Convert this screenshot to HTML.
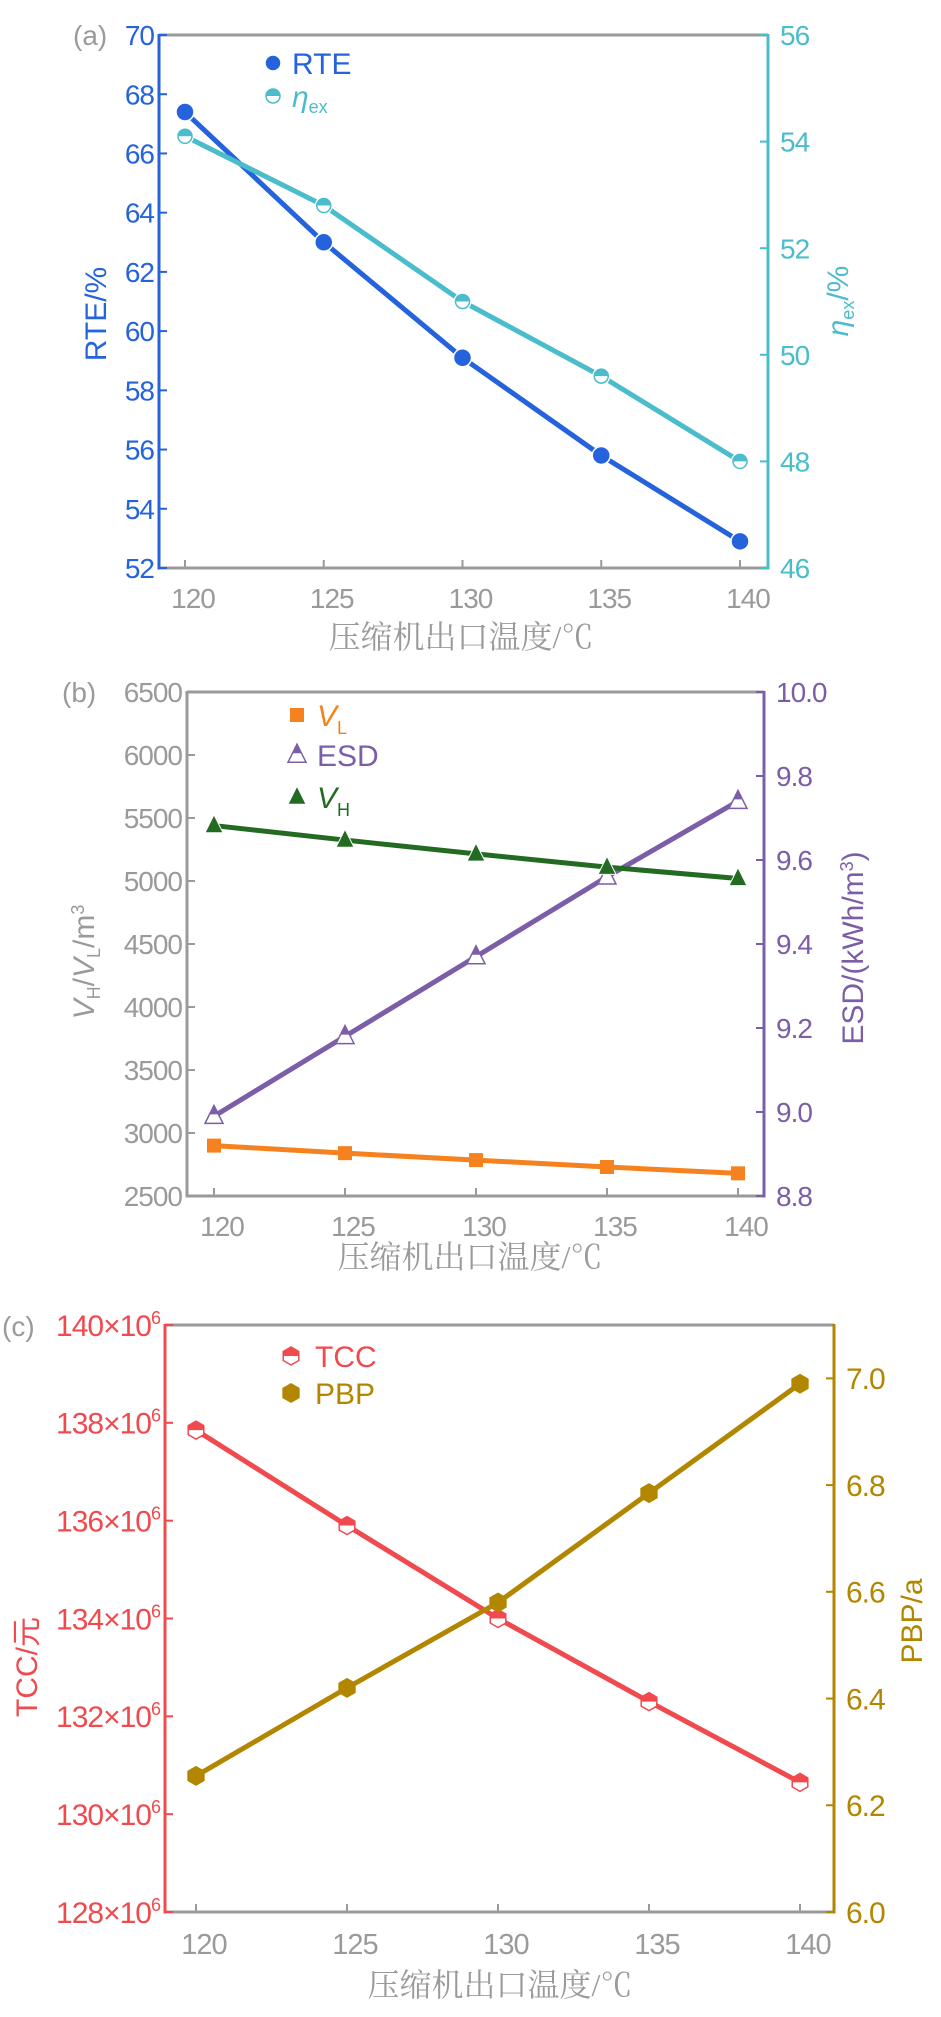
<!DOCTYPE html>
<html><head><meta charset="utf-8">
<style>
body{margin:0;background:#fff;width:941px;height:2017px;overflow:hidden}
svg{display:block}
text{font-family:"Liberation Sans","Noto Sans CJK SC",sans-serif}
.cn{font-family:"Liberation Serif","Noto Serif CJK SC",serif}
</style></head><body>
<svg id="fig" width="941" height="2017" viewBox="0 0 941 2017" xmlns="http://www.w3.org/2000/svg"></svg>
<script>
const temps = [120, 125, 130, 135, 140];
const rteValues = [67.4, 63.0, 59.1, 55.8, 52.9];
const etaValues = [54.1, 52.8, 51.0, 49.6, 48.0];
const vlValues = [2900, 2840, 2785, 2730, 2680];
const esdValues = [8.99, 9.18, 9.37, 9.56, 9.74];
const vhValues = [5440, 5325, 5215, 5110, 5020];
const tccValues = [137.85, 135.9, 134.0, 132.3, 130.65];
const pbpValues = [6.255, 6.42, 6.58, 6.785, 6.99];
const aLeftTicks = [52,54,56,58,60,62,64,66,68,70];
const aRightTicks = [46,48,50,52,54,56];
const bLeftTicks = [2500,3000,3500,4000,4500,5000,5500,6000,6500];
const bRightTicks = ["8.8","9.0","9.2","9.4","9.6","9.8","10.0"];
const cLeftTicks = [128,130,132,134,136,138,140];
const cRightTicks = ["6.0","6.2","6.4","6.6","6.8","7.0"];

const NS="http://www.w3.org/2000/svg";
const svg=document.getElementById('fig');
function el(tag,attrs,parent,txt){const e=document.createElementNS(NS,tag);for(const k in attrs)e.setAttribute(k,attrs[k]);if(txt!==undefined)e.textContent=txt;(parent||svg).appendChild(e);return e;}
const GRAY="#9a9a9a";

function chart(cfg){
  const g=el('g',{});
  
  
  const {L,R,T,B,x0,x1}=cfg;
  const xs=v=>x0+(v-120)/20*(x1-x0);
  const yl=v=>B-(v-cfg.lmin)/(cfg.lmax-cfg.lmin)*(B-T);
  const yr=v=>B-(v-cfg.rmin)/(cfg.rmax-cfg.rmin)*(B-T);
  const top=el('line',{x1:L,y1:T,x2:R,y2:T,stroke:GRAY,'stroke-width':3},g);
  
  const bot=el('line',{x1:L,y1:B,x2:R,y2:B,stroke:GRAY,'stroke-width':3},g);
  
  const la=el('line',{x1:L,y1:T-1,x2:L,y2:B+1.5,stroke:cfg.lc,'stroke-width':3},g);
  
  const ra=el('line',{x1:R,y1:T-1,x2:R,y2:B+1.5,stroke:cfg.rc,'stroke-width':3},g);
  
  temps.forEach(t=>{
    const tk=el('line',{x1:xs(t),y1:B,x2:xs(t),y2:B-8,stroke:GRAY,'stroke-width':2},g);
    
    const tl=el('text',{x:xs(t)+8,y:B+cfg.xty,'font-size':cfg.xfs||cfg.fs,fill:GRAY,'text-anchor':'middle','letter-spacing':'-1'},g,String(t));
    
  });
  cfg.lt.forEach(v=>{
    const y=yl(+v);
    const tk=el('line',{x1:L,y1:y,x2:L+8,y2:y,stroke:cfg.lc,'stroke-width':2},g);
    
    const tl=el('text',{x:L-5,y:y+cfg.fs*0.36,'font-size':cfg.fs,fill:cfg.lc,'text-anchor':'end','letter-spacing':'-1'},g);
    
    if(cfg.sci){tl.textContent=v+'×10';el('tspan',{'font-size':cfg.fs*0.6,dy:-cfg.fs*0.4},tl,'6');}
    else tl.textContent=String(v);
  });
  cfg.rt.forEach(v=>{
    const y=yr(+v);
    const tk=el('line',{x1:R,y1:y,x2:R-8,y2:y,stroke:cfg.rc,'stroke-width':2},g);
    
    const tl=el('text',{x:R+12,y:y+cfg.fs*0.36,'font-size':cfg.fs,fill:cfg.rc,'letter-spacing':'-1'},g,String(v));
    
  });
  const pl=el('text',{x:cfg.plx,y:cfg.ply,'font-size':28,fill:GRAY},g,cfg.panel);
  
  const xt=el('text',{x:cfg.xtx,y:cfg.xtyy,'font-size':32,fill:GRAY,'text-anchor':'middle',class:'cn'},g,'压缩机出口温度/℃');
  
  cfg.series.forEach(s=>{
    const ys=s.axis==='l'?yl:yr;
    const pts=temps.map((t,i)=>xs(t)+','+ys(s.data[i])).join(' ');
    const line=el('polyline',{points:pts,fill:'none',stroke:s.color,'stroke-width':5},g);
    
    temps.forEach((t,i)=>{const m=marker(g,s.m,xs(t),ys(s.data[i]),s.color,s.size);
      });
  });
  return {g,xs,yl,yr};
}
function marker(g,type,x,y,c,r){
  const m=el('g',{},g);
  if(type==='circle'){el('circle',{cx:x,cy:y,r:r,fill:c,stroke:'#fff','stroke-width':1.5},m);}
  else if(type==='halfcircle'){el('circle',{cx:x,cy:y,r:r,fill:'#fff',stroke:'#fff','stroke-width':2},m);
    el('circle',{cx:x,cy:y,r:r-1,fill:'#fff',stroke:c,'stroke-width':1.5},m);
    el('path',{d:`M${x-r+1},${y} A${r-1},${r-1} 0 0 1 ${x+r-1},${y} Z`,fill:c},m);}
  else if(type==='square'){el('rect',{x:x-r,y:y-r,width:2*r,height:2*r,fill:c},m);}
  else if(type==='tri'){el('path',{d:`M${x},${y-r*1.2} L${x+r},${y+r*0.8} L${x-r},${y+r*0.8} Z`,fill:c,stroke:'#fff','stroke-width':1},m);}
  else if(type==='halftri'){el('path',{d:`M${x},${y-r*1.2} L${x+r},${y+r*0.8} L${x-r},${y+r*0.8} Z`,fill:'#fff',stroke:c,'stroke-width':1.5},m);
    el('path',{d:`M${x},${y-r*1.2} L${x+r*0.5},${y-r*0.2} L${x-r*0.5},${y-r*0.2} Z`,fill:c},m);}
  else if(type==='hex'||type==='halfhex'){
    const h=[];for(let k=0;k<6;k++){const a=Math.PI/6+k*Math.PI/3;h.push((x+r*Math.cos(a))+','+(y+r*Math.sin(a)));}
    if(type==='hex')el('polygon',{points:h.join(' '),fill:c},m);
    else{el('polygon',{points:h.join(' '),fill:'#fff',stroke:c,'stroke-width':1.5},m);
      el('path',{d:`M${x-r*0.866},${y} L${x-r*0.866},${y-r*0.5} L${x},${y-r} L${x+r*0.866},${y-r*0.5} L${x+r*0.866},${y} Z`,fill:c},m);}
  }
  return m;
}
function legend(g,items,lx,tx){
  items.forEach(it=>{
    const lg=el('g',{},g);
    
    marker(lg,it.m,lx,it.y,it.c,it.r);
    const t=el('text',{x:tx,y:it.y+11,'font-size':30,fill:it.c},lg);
    it.parts.forEach(p=>{el('tspan',p.a||{},t,p.t);});
  });
}
function vtitle(g,x,y,c,name,build){
  const t=el('text',{transform:`translate(${x},${y}) rotate(-90)`,'text-anchor':'middle','font-size':30,fill:c},g);
  
  build(t);
}

const A=chart({name:'chart-a',L:159,R:768,T:35,B:568,x0:185,x1:740,lmin:52,lmax:70,rmin:46,rmax:56,lc:'#2563dc',rc:'#4bbccb',
  lt:aLeftTicks,rt:aRightTicks,fs:28,xty:40,panel:'(a)',plx:73,ply:45,xtx:461,xtyy:648,
  series:[{key:'rte',data:rteValues,axis:'l',color:'#2563dc',m:'circle',size:9},
          {key:'eta',data:etaValues,axis:'r',color:'#4bbccb',m:'halfcircle',size:8}]});
legend(A.g,[{m:'circle',y:63,c:'#2563dc',r:8,parts:[{t:'RTE'}]},
  {m:'halfcircle',y:96,c:'#4bbccb',r:8,parts:[{t:'η',a:{'font-style':'italic'}},{t:'ex',a:{'font-size':18,dy:6}}]}],273,292);
vtitle(A.g,106,314,'#2563dc','left-y-axis-title',t=>{t.textContent='RTE/%';});
vtitle(A.g,848,301,'#4bbccb','right-y-axis-title',t=>{el('tspan',{'font-style':'italic'},t,'η');el('tspan',{'font-size':18,dy:6},t,'ex');el('tspan',{dy:-6},t,'/%');});

const Bc=chart({name:'chart-b',L:187,R:764,T:692,B:1196,x0:214,x1:738,lmin:2500,lmax:6500,rmin:8.8,rmax:10.0,lc:GRAY,rc:'#7b5ea7',
  lt:bLeftTicks,rt:bRightTicks,fs:28,xty:40,panel:'(b)',plx:62,ply:702,xtx:470,xtyy:1268,
  series:[{key:'esd',data:esdValues,axis:'r',color:'#7b5ea7',m:'halftri',size:9},
          {key:'vh',data:vhValues,axis:'l',color:'#236b23',m:'tri',size:9},
          {key:'vl',data:vlValues,axis:'l',color:'#f5821f',m:'square',size:7}]});
legend(Bc.g,[{m:'square',y:715,c:'#f5821f',r:7,parts:[{t:'V',a:{'font-style':'italic'}},{t:'L',a:{'font-size':18,dy:8}}]},
  {m:'halftri',y:755,c:'#7b5ea7',r:9,parts:[{t:'ESD'}]},
  {m:'tri',y:797,c:'#236b23',r:9,parts:[{t:'V',a:{'font-style':'italic'}},{t:'H',a:{'font-size':18,dy:8}}]}],297,317);
vtitle(Bc.g,94,962,GRAY,'left-y-axis-title',t=>{el('tspan',{'font-style':'italic'},t,'V');el('tspan',{'font-size':18,dy:6},t,'H');el('tspan',{dy:-6},t,'/');el('tspan',{'font-style':'italic'},t,'V');el('tspan',{'font-size':18,dy:6},t,'L');el('tspan',{dy:-6},t,'/m');el('tspan',{'font-size':18,dy:-10},t,'3');});
vtitle(Bc.g,863,948,'#7b5ea7','right-y-axis-title',t=>{t.appendChild(document.createTextNode('ESD/(kWh/m'));el('tspan',{'font-size':18,dy:-10},t,'3');el('tspan',{dy:10},t,')');});

const C=chart({name:'chart-c',L:165,R:834,T:1325,B:1912,x0:196,x1:800,lmin:128,lmax:140,rmin:6.0,rmax:7.1,lc:'#f04a4f',rc:'#b38600',
  lt:cLeftTicks,rt:cRightTicks,fs:30,xfs:29,xty:42,panel:'(c)',plx:2,ply:1336,xtx:500,xtyy:1996,sci:true,
  series:[{key:'tcc',data:tccValues,axis:'l',color:'#f04a4f',m:'halfhex',size:9},
          {key:'pbp',data:pbpValues,axis:'r',color:'#b38600',m:'hex',size:10}]});
legend(C.g,[{m:'halfhex',y:1356,c:'#f04a4f',r:9,parts:[{t:'TCC'}]},
  {m:'hex',y:1393,c:'#b38600',r:10,parts:[{t:'PBP'}]}],291,315);
vtitle(C.g,37,1667,'#f04a4f','left-y-axis-title',t=>{t.textContent='TCC/元';});
vtitle(C.g,922,1621,'#b38600','right-y-axis-title',t=>{t.textContent='PBP/a';});
</script>
</body></html>
